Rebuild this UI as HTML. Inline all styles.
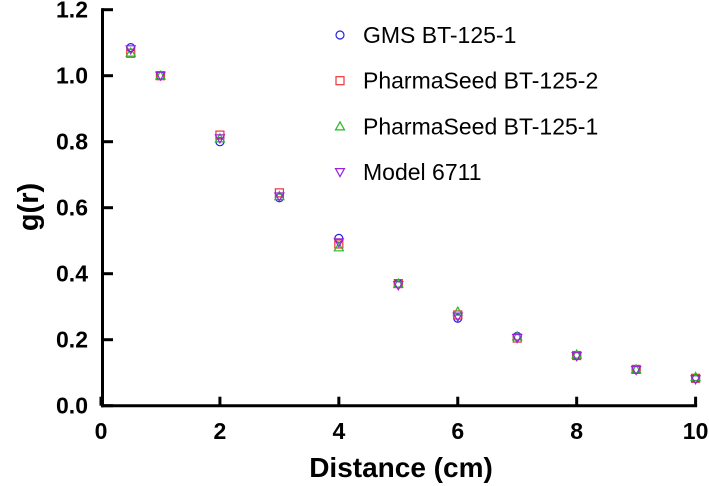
<!DOCTYPE html>
<html><head><meta charset="utf-8"><style>
body{margin:0;background:#fff;}
svg{display:block;font-family:"Liberation Sans",Arial,sans-serif;}
</style></head><body>
<svg id="chart" width="709" height="486">
<g id="axes"></g>
<g id="marks"></g>
<g id="legend"></g>
<text x="401" y="477" text-anchor="middle" font-size="28" font-weight="bold">Distance (cm)</text>
<text transform="translate(38,207) rotate(-90)" text-anchor="middle" font-size="29" font-weight="bold">g(r)</text>
</svg>
<script>
const distances=[0.5,1,2,3,4,5,6,7,8,9,10];
const gms=[1.085,1.0,0.80,0.63,0.507,0.37,0.265,0.21,0.152,0.11,0.083];
const ps2=[1.068,1.0,0.82,0.645,0.49,0.37,0.275,0.205,0.152,0.11,0.083];
const ps1=[1.07,1.0,0.81,0.635,0.48,0.37,0.285,0.21,0.155,0.11,0.087];
const m6711=[1.08,1.0,0.81,0.634,0.495,0.365,0.27,0.205,0.15,0.108,0.08];
const xTicks=[0,2,4,6,8,10];
const yTicks=[0,0.2,0.4,0.6,0.8,1.0,1.2];
const seriesNames=["GMS BT-125-1","PharmaSeed BT-125-2","PharmaSeed BT-125-1","Model 6711"];
const NS="http://www.w3.org/2000/svg";
function X(v){return 101+v*59.46;}
function Y(v){return 405.7-v*330;}
function mk(tag,attrs,parent){const e=document.createElementNS(NS,tag);for(const k in attrs)e.setAttribute(k,attrs[k]);parent.appendChild(e);return e;}
const axes=document.getElementById('axes');
const xa=mk('line',{x1:101,y1:Y(0),x2:X(10)+1.5,y2:Y(0),stroke:'#000','stroke-width':3},axes);


const ya=mk('line',{x1:102.5,y1:Y(0)+1.5,x2:102.5,y2:Y(1.2)-1.5,stroke:'#000','stroke-width':3},axes);


xTicks.forEach(t=>{
 const l=mk('line',{x1:X(t),y1:Y(0),x2:X(t),y2:Y(0)-9,stroke:'#000','stroke-width':3},axes);
 
 
 const tx=mk('text',{x:X(t),y:439,'text-anchor':'middle','font-size':23,'font-weight':'bold'},axes);
 tx.textContent=t;
 
 
});
yTicks.forEach(t=>{
 const l=mk('line',{x1:102,y1:Y(t),x2:113,y2:Y(t),stroke:'#000','stroke-width':3},axes);
 
 
 const tx=mk('text',{x:88,y:Y(t)+8,'text-anchor':'end','font-size':23,'font-weight':'bold'},axes);
 tx.textContent=t.toFixed(1);
 
 
});
function marker(type,x,y,parent){
 let e;
 if(type==0)e=mk('circle',{cx:x,cy:y,r:4,fill:'none',stroke:'#2222dd','stroke-width':1.2},parent);
 else if(type==1)e=mk('rect',{x:x-4,y:y-4,width:8,height:8,fill:'none',stroke:'#ee3333','stroke-width':1.2},parent);
 else if(type==2)e=mk('polygon',{points:`${x},${y-4.5} ${x-4.5},${y+3.5} ${x+4.5},${y+3.5}`,fill:'none',stroke:'#22bb22','stroke-width':1.2},parent);
 else e=mk('polygon',{points:`${x},${y+4.5} ${x-4.5},${y-3.5} ${x+4.5},${y-3.5}`,fill:'none',stroke:'#9922dd','stroke-width':1.2},parent);
 return e;
}
const marks=document.getElementById('marks');
[gms,ps2,ps1,m6711].forEach((s,i)=>{
 s.forEach((v,j)=>{
  const e=marker(i,X(distances[j]),Y(v),marks);
  
  
 });
});
const legend=document.getElementById('legend');
seriesNames.forEach((n,i)=>{
 const y=35+i*45.7;
 const m=marker(i,340,y,legend);
 
 
 const t=mk('text',{x:363,y:y+8,'font-size':23},legend);
 t.textContent=n;
 
 
});
</script>
</body></html>
